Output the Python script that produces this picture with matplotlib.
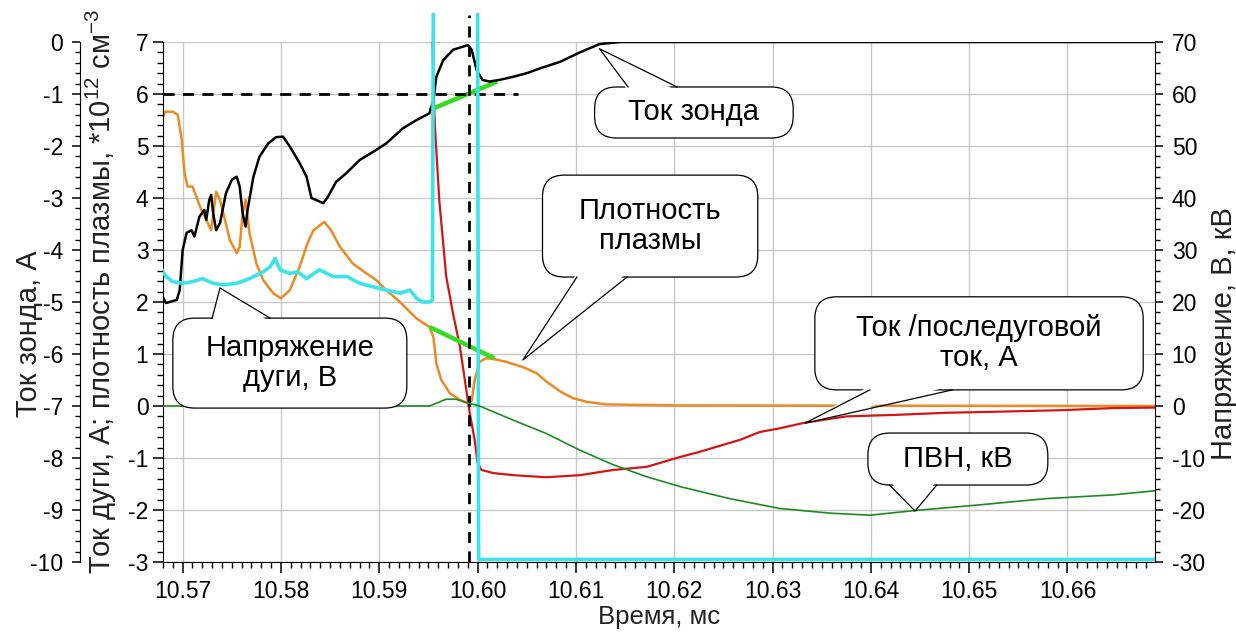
import matplotlib.pyplot as plt
from matplotlib.patches import FancyBboxPatch, Polygon, Rectangle
from matplotlib.ticker import MultipleLocator, FormatStrFormatter

plt.rcParams['font.family'] = ['Liberation Sans', 'DejaVu Sans']
plt.rcParams['mathtext.fontset'] = 'custom'
plt.rcParams['mathtext.rm'] = 'Liberation Sans'
plt.rcParams['mathtext.default'] = 'rm'
plt.rcParams['axes.unicode_minus'] = False

# probe current, A (outer left axis)
probe_t = [10.5678, 10.5683, 10.5694, 10.5697, 10.5700, 10.5704, 10.5709, 10.5712, 10.5717,
           10.5722, 10.5724, 10.5727, 10.5729, 10.5731, 10.5734, 10.5738, 10.5744, 10.5750,
           10.5755, 10.5758, 10.5761, 10.5764, 10.5766, 10.5772, 10.5778, 10.5787, 10.5795,
           10.5802, 10.5809, 10.5819, 10.5826, 10.5831, 10.5836, 10.5843, 10.5848, 10.5856,
           10.5866, 10.5880, 10.5894, 10.5907, 10.5924, 10.5938, 10.5951, 10.5955, 10.5958,
           10.5965, 10.5975, 10.5990, 10.5994, 10.5999, 10.6005, 10.6012, 10.6022, 10.6036,
           10.6050, 10.6063, 10.6084, 10.6104, 10.6124, 10.6145, 10.6689]
probe_a = [-4.83, -5.02, -4.96, -4.77, -4.00, -3.67, -3.62, -3.74, -3.36,
           -3.23, -3.42, -3.04, -2.94, -3.29, -3.62, -3.48, -2.91, -2.65,
           -2.59, -2.78, -3.29, -3.55, -3.23, -2.59, -2.21, -1.95, -1.83,
           -1.82, -2.01, -2.33, -2.59, -3.00, -3.04, -3.10, -2.97, -2.69,
           -2.53, -2.27, -2.11, -1.95, -1.66, -1.50, -1.37, -1.12, -0.67,
           -0.35, -0.15, -0.06, -0.15, -0.54, -0.73, -0.76, -0.73, -0.67,
           -0.60, -0.51, -0.38, -0.20, -0.04, 0.0, 0.0]

# plasma density, 1e12 cm^-3 (inner left axis)
dens_t = [10.5678, 10.5682, 10.5690, 10.5695, 10.5699, 10.5702, 10.5705, 10.5710, 10.5714,
          10.5719, 10.5724, 10.5729, 10.5734, 10.5738, 10.5743, 10.5748, 10.5755, 10.5758,
          10.5761, 10.5764, 10.5768, 10.5775, 10.5782, 10.5792, 10.5800, 10.5809, 10.5819,
          10.5827, 10.5833, 10.5838, 10.5844, 10.5851, 10.5860, 10.5873, 10.5887, 10.5897,
          10.5907, 10.5921, 10.5938, 10.5951, 10.5955, 10.5958, 10.5963, 10.5972, 10.5982,
          10.5990, 10.5994, 10.5997, 10.6002, 10.6009, 10.6017, 10.6029, 10.6046, 10.6060,
          10.6070, 10.6084, 10.6097, 10.6111, 10.6131, 10.6206, 10.6689]
dens_v = [5.44, 5.66, 5.66, 5.60, 5.12, 4.47, 4.22, 4.22, 4.02,
          3.77, 3.58, 3.38, 4.12, 3.96, 3.58, 3.19, 2.94, 3.06,
          3.71, 3.96, 3.32, 2.74, 2.42, 2.17, 2.07, 2.23, 2.68,
          3.13, 3.38, 3.45, 3.54, 3.38, 3.06, 2.74, 2.55, 2.42,
          2.23, 2.00, 1.68, 1.52, 1.33, 0.82, 0.50, 0.24, 0.12,
          0.05, 0.10, 0.50, 0.85, 0.92, 0.90, 0.85, 0.75, 0.63,
          0.47, 0.28, 0.15, 0.08, 0.03, 0.01, 0.0]

# arc / post-arc current, A (inner left axis)
arc_t = [10.5954, 10.5956, 10.5957, 10.5961, 10.5968, 10.5975, 10.5982, 10.5987, 10.5992,
         10.5997, 10.6000, 10.6004, 10.6016, 10.6036, 10.6070, 10.6104, 10.6138, 10.6172,
         10.6206, 10.6226, 10.6267, 10.6287, 10.6307, 10.6333, 10.6375, 10.6426, 10.6477,
         10.6528, 10.6595, 10.6646, 10.6689]
arc_a = [7.0, 5.63, 5.24, 3.96, 2.50, 1.78, 1.14, 0.50, -0.14,
         -0.65, -1.10, -1.23, -1.29, -1.33, -1.37, -1.33, -1.23, -1.17,
         -0.98, -0.88, -0.65, -0.50, -0.43, -0.32, -0.20, -0.17, -0.13,
         -0.11, -0.08, -0.04, -0.03]

# arc voltage, V (right axis)
volt_t = [10.5678, 10.5683, 10.5690, 10.5700, 10.5710, 10.5720, 10.5731, 10.5741, 10.5755,
          10.5768, 10.5782, 10.5789, 10.5794, 10.5799, 10.5809, 10.5817, 10.5826, 10.5839,
          10.5853, 10.5867, 10.5880, 10.5894, 10.5907, 10.5921, 10.5931, 10.5938, 10.5944,
          10.5951, 10.5954, 10.5955, 10.6000, 10.6001, 10.6689]
volt_v = [26.5, 24.9, 23.9, 23.6, 23.9, 24.5, 23.6, 23.3, 23.6,
          24.5, 25.8, 26.8, 28.4, 26.2, 25.5, 25.8, 24.5, 26.2,
          24.9, 24.9, 23.6, 22.9, 22.3, 21.7, 22.3, 20.7, 20.0,
          20.0, 20.4, 80.0, 80.0, -29.5, -29.5]

# ПВН, kV (right axis)
pvn_t = [10.5678, 10.5800, 10.5921, 10.5951, 10.5968, 10.5978, 10.5990, 10.6002, 10.6036,
         10.6070, 10.6104, 10.6138, 10.6172, 10.6206, 10.6256, 10.6307, 10.6358, 10.6399,
         10.6445, 10.6511, 10.6579, 10.6646, 10.6689]
pvn_kv = [0.0, 0.0, 0.0, 0.0, 1.3, 1.3, 0.6, 0.0, -2.7,
          -5.3, -8.5, -11.3, -13.6, -15.5, -17.8, -19.7, -20.6, -21.0,
          -20.1, -19.0, -17.8, -17.1, -16.3]

# fitted (bright green) segments, inner axis units
fit_probe_t = [10.5951, 10.6020]
fit_probe_v = [5.69, 6.24]
fit_dens_t = [10.5951, 10.6017]
fit_dens_v = [1.52, 0.92]

marker_t = 10.5991
marker_level = 6.0
marker_end_t = 10.6041

x_ticks = [10.57, 10.58, 10.59, 10.60, 10.61, 10.62, 10.63, 10.64, 10.65, 10.66]
x_lim = (10.5680, 10.6689)

fig = plt.figure(figsize=(12.36, 6.34), dpi=100)
ax = fig.add_axes([163 / 1236, 72 / 634, 992 / 1236, 520 / 634])
ax_probe = ax.twinx()
ax_volt = ax.twinx()

ax.set_xlim(*x_lim)
ax.set_ylim(-3, 7)
ax_probe.set_ylim(-10, 0)
ax_volt.set_ylim(-30, 70)

# grid and ticks
ax.set_xticks(x_ticks)
ax.xaxis.set_major_formatter(FormatStrFormatter('%.2f'))
ax.xaxis.set_minor_locator(MultipleLocator(0.001))
ax.yaxis.set_major_locator(MultipleLocator(1))
ax.yaxis.set_minor_locator(MultipleLocator(0.2))
ax.grid(True, which='major', color='#c8c8c8', lw=1.0)
ax.tick_params(axis='x', which='major', direction='out', length=8, width=1.1, labelsize=16.5, pad=5)
ax.tick_params(axis='x', which='minor', direction='out', length=4, width=1)
ax.tick_params(axis='y', which='major', direction='out', length=7, width=1.1, labelsize=16.5, pad=3.5)
ax.tick_params(axis='y', which='minor', direction='out', length=4, width=1)
ax.spines['top'].set_visible(False)
ax.spines['right'].set_visible(False)

ax_probe.yaxis.set_ticks_position('left')
ax_probe.yaxis.set_label_position('left')
ax_probe.spines['left'].set_position(('outward', 59.8))
for s in ['top', 'right', 'bottom']:
    ax_probe.spines[s].set_visible(False)
ax_probe.yaxis.set_major_locator(MultipleLocator(1))
ax_probe.yaxis.set_minor_locator(MultipleLocator(0.2))
ax_probe.tick_params(axis='y', which='major', direction='out', length=6, width=1.1, labelsize=16.5, pad=6)
ax_probe.tick_params(axis='y', which='minor', direction='out', length=3.5, width=1)

for s in ['top', 'left', 'bottom']:
    ax_volt.spines[s].set_visible(False)
ax_volt.yaxis.set_major_locator(MultipleLocator(10))
ax_volt.yaxis.set_minor_locator(MultipleLocator(2))
ax_volt.tick_params(axis='y', which='major', direction='out', length=6, width=1.1, labelsize=16.5, pad=6)
ax_volt.tick_params(axis='y', which='minor', direction='out', length=3.5, width=1)

label_color = '#222222'
ax.set_xlabel('Время, мс', fontsize=18.5, color=label_color)
ax.xaxis.set_label_coords(0.5, -0.083)
ax.set_ylabel('Ток дуги, А; плотность плазмы, *10$^{12}$ см$^{-3}$', fontsize=21, color=label_color)
ax.yaxis.set_label_coords(-0.044, 0.52)
ax_probe.set_ylabel('Ток зонда, А', fontsize=21, color=label_color)
ax_probe.yaxis.set_label_coords(-0.121, 0.44)
ax_volt.set_ylabel('Напряжение, В, кВ', fontsize=21, color=label_color)
ax_volt.yaxis.set_label_coords(1.055, 0.44)

# curves
ax.plot(dens_t, dens_v, color='#ec8a24', lw=1.8)
ax.plot(arc_t, arc_a, color='#d41515', lw=1.6)
ax.plot(fit_probe_t, fit_probe_v, color='#35dd20', lw=3.2, solid_capstyle='butt')
ax.plot(fit_dens_t, fit_dens_v, color='#35dd20', lw=3.2, solid_capstyle='butt')
ax.hlines(marker_level, x_lim[0], marker_end_t, colors='black', lw=2, linestyles=(0, (4, 3)))
ax.vlines(marker_t, -3, 7.52, colors='black', lw=2, linestyles=(0, (4, 3)), clip_on=False, zorder=5)

ax_probe.plot(probe_t, probe_a, color='black', lw=1.8)

clip_rect = Rectangle((0, 0), 1, 1.056, transform=ax_volt.transAxes)
cyan, = ax_volt.plot(volt_t, volt_v, color='#3ce3ea', lw=2.6)
cyan.set_clip_path(clip_rect)
ax_volt.plot(pvn_t, pvn_kv, color='#1f8a22', lw=1.2)

# callouts
aspect = 992 / 520
tr = ax_volt.transAxes


def to_frac(t, v):
    return ax.transLimits.transform((t, v))


def callout(text, box, tip, base, fs=21):
    t0, t1, v_top, v_bot = box
    x0, y_top = to_frac(t0, v_top)
    x1, y_bot = to_frac(t1, v_bot)
    tx, ty = to_frac(*tip)
    bx0 = to_frac(base[0], v_top)[0]
    bx1 = to_frac(base[1], v_top)[0]
    if ty > y_top:
        edge, inner = y_top, y_top - 0.008
    else:
        edge, inner = y_bot, y_bot + 0.008
    ax_volt.add_patch(FancyBboxPatch((x0, y_bot), x1 - x0, y_top - y_bot,
                                     boxstyle='round,pad=0,rounding_size=0.022',
                                     mutation_aspect=aspect, transform=tr, fc='white',
                                     ec='black', lw=0.9, zorder=20, clip_on=False))
    ax_volt.add_patch(Polygon([(bx0, inner), (tx, ty), (bx1, inner)], closed=True,
                              transform=tr, fc='white', ec='none', zorder=21, clip_on=False))
    ax_volt.plot([bx0, tx, bx1], [edge, ty, edge], transform=tr, color='black', lw=0.9,
                 zorder=22, clip_on=False)
    ax_volt.text((x0 + x1) / 2, (y_top + y_bot) / 2, text, transform=tr, ha='center',
                 va='center', fontsize=fs, linespacing=1.1, color='black', zorder=23)


callout('Ток зонда', (10.6119, 10.6321, 6.135, 5.154), (10.6124, 6.87), (10.6153, 10.6203))
callout('Плотность\nплазмы', (10.6066, 10.6285, 4.44, 2.48), (10.6046, 0.885), (10.6101, 10.6152))
callout('Напряжение\nдуги, В', (10.5690, 10.5928, 1.69, -0.04), (10.5738, 2.27), (10.5730, 10.5789))
callout('Ток /последуговой\nток, А', (10.6343, 10.6677, 2.10, 0.31), (10.6333, -0.33), (10.6399, 10.6483))
callout('ПВН, кВ', (10.6397, 10.6580, -0.52, -1.52), (10.6445, -2.02), (10.6419, 10.6467))

fig.savefig('out.png', dpi=100)
